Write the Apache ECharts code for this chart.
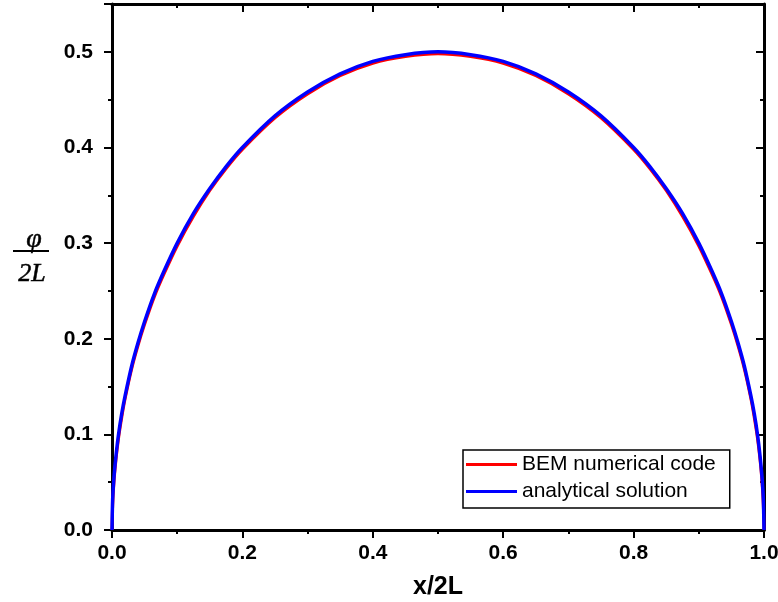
<!DOCTYPE html>
<html><head><meta charset="utf-8">
<script src="https://cdn.jsdelivr.net/npm/echarts@6/dist/echarts.min.js"></script>
<style>html,body{margin:0;padding:0;background:#fff}#c{width:778px;height:602px}</style>
</head><body><div id="c"></div>
<script>
var xValues = [0, 0.001, 0.003, 0.006, 0.01, 0.015, 0.02, 0.03, 0.04, 0.05, 0.065, 0.08, 0.1, 0.125, 0.15, 0.175, 0.2, 0.25, 0.3, 0.35, 0.4, 0.45, 0.5, 0.55, 0.6, 0.65, 0.7, 0.75, 0.8, 0.825, 0.85, 0.875, 0.9, 0.92, 0.935, 0.95, 0.96, 0.97, 0.98, 0.985, 0.99, 0.994, 0.997, 0.999, 1.0];
var analytical = [0, 0.032, 0.055, 0.077, 0.1, 0.122, 0.14, 0.171, 0.196, 0.218, 0.247, 0.271, 0.3, 0.331, 0.357, 0.38, 0.4, 0.433, 0.458, 0.477, 0.49, 0.497, 0.5, 0.497, 0.49, 0.477, 0.458, 0.433, 0.4, 0.38, 0.357, 0.331, 0.3, 0.271, 0.247, 0.218, 0.196, 0.171, 0.14, 0.122, 0.1, 0.077, 0.055, 0.032, 0];
var bem = [0, 0.026, 0.05, 0.073, 0.096, 0.118, 0.137, 0.168, 0.193, 0.215, 0.244, 0.268, 0.297, 0.328, 0.355, 0.378, 0.398, 0.431, 0.456, 0.475, 0.488, 0.495, 0.498, 0.495, 0.488, 0.475, 0.456, 0.431, 0.398, 0.378, 0.355, 0.328, 0.297, 0.268, 0.244, 0.215, 0.193, 0.168, 0.137, 0.118, 0.096, 0.073, 0.05, 0.026, 0];
var seriesNames = ['BEM numerical code', 'analytical solution'];

function pairs(xs, ys){ return xs.map(function(x,i){ return [x, ys[i]]; }); }

var chart = echarts.init(document.getElementById('c'));
var labelFont = {color:'#000', fontFamily:'Liberation Sans, Arial', fontWeight:'bold', fontSize:21};
function baseAxis(extra){
  return Object.assign({
    type:'value',
    axisLine:{show:true, onZero:false, lineStyle:{color:'#000', width:3}},
    axisTick:{show:true, inside:false, length:8, lineStyle:{color:'#000', width:2}},
    minorTick:{show:true, splitNumber:2, length:4, lineStyle:{color:'#000', width:2}},
    splitLine:{show:false}
  }, extra);
}
var innerTick = {show:true, inside:true, length:8, lineStyle:{color:'#000', width:2}};
var innerMinor = {show:true, splitNumber:2, length:4, lineStyle:{color:'#000', width:2}};
chart.setOption({
  animation:false,
  backgroundColor:'#fff',
  grid:{left:112, right:14, top:4, bottom:72, containLabel:false, outerBoundsMode:'none'},
  xAxis:[
    baseAxis({min:0, max:1, interval:0.2, position:'bottom',
      axisLabel:Object.assign({margin:13, formatter:function(v){return v.toFixed(1);}}, labelFont),
      name:'x/2L', nameLocation:'middle', nameGap:45,
      nameTextStyle:{color:'#000', fontFamily:'Liberation Sans, Arial', fontWeight:'bold', fontSize:25}}),
    baseAxis({min:0, max:1, interval:0.2, position:'top', axisLabel:{show:false},
      axisTick:innerTick, minorTick:innerMinor})
  ],
  yAxis:[
    baseAxis({min:0, max:0.55, interval:0.1, position:'left',
      axisLabel:Object.assign({margin:19, showMaxLabel:false, formatter:function(v){return v.toFixed(1);}}, labelFont)}),
    baseAxis({min:0, max:0.55, interval:0.1, position:'right', axisLabel:{show:false},
      axisTick:innerTick, minorTick:innerMinor})
  ],
  legend:{
    left:463, top:450, orient:'vertical',
    data:seriesNames,
    icon:'rect', itemWidth:51, itemHeight:3, itemGap:6,
    borderColor:'#000', borderWidth:1.5, borderRadius:0,
    padding:[4,14,6,3],
    textStyle:{color:'#000', fontFamily:'Liberation Sans, Arial', fontSize:21}
  },
  series:[
    {name:seriesNames[0], type:'line', data:pairs(xValues, bem), smooth:0.25, showSymbol:false,
      lineStyle:{color:'#ff0000', width:3}, itemStyle:{color:'#ff0000'}},
    {name:seriesNames[1], type:'line', data:pairs(xValues, analytical), smooth:0.25, showSymbol:false,
      lineStyle:{color:'#0000ff', width:3.5}, itemStyle:{color:'#0000ff'}}
  ],
  graphic:[
    {type:'text', x:34, y:240, style:{text:'φ', font:'italic 28px "Liberation Serif", serif', fill:'#000', stroke:'#000', lineWidth:0.5, align:'center', verticalAlign:'middle'}},
    {type:'line', shape:{x1:13, y1:251, x2:49, y2:251}, style:{stroke:'#000', lineWidth:2}},
    {type:'text', x:32, y:274, style:{text:'2L', font:'italic 26px "Liberation Serif", serif', fill:'#000', stroke:'#000', lineWidth:0.5, align:'center', verticalAlign:'middle'}}
  ]
});
</script></body></html>
